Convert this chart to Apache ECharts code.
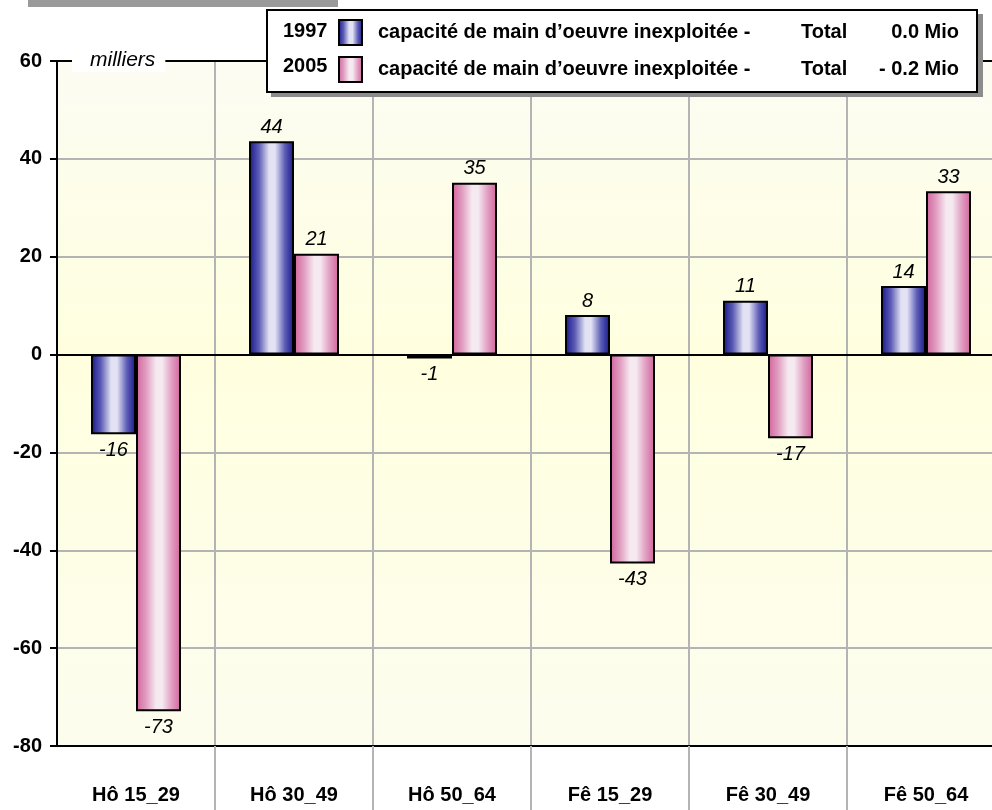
<!DOCTYPE html>
<html lang="fr">
<head>
  <meta charset="UTF-8">
  <title>capacité de main d'oeuvre inexploitée</title>
  <script src="https://cdn.jsdelivr.net/npm/echarts@6/dist/echarts.min.js"></script>
  <style>
    html, body { margin: 0; padding: 0; background: #fff; }
    #chart { width: 992px; height: 810px; }
  </style>
</head>
<body>
  <div id="chart"></div>
  <script>
    // catégories et valeurs (milliers)
    var categories = ['Hô 15_29', 'Hô 30_49', 'Hô 50_64', 'Fê 15_29', 'Fê 30_49', 'Fê 50_64'];
    var years = ['1997', '2005'];
    var v1997 = [-16.3, 43.6, -0.8, 8.1, 11.0, 14.0];
    var v2005 = [-72.9, 20.6, 35.1, -42.7, -17.1, 33.4];
    var legendText = 'capacité de main d\u2019oeuvre inexploitée -';
    var totals = ['0.0 Mio', '- 0.2 Mio'];
    var yTicks = { min: -80, max: 60, step: 20 };

    var font = 'Arial, "Liberation Sans", sans-serif';
    var myChart = echarts.init(document.getElementById('chart'));

    // dégradé horizontal : bords foncés, reflet clair au milieu
    function barGradient(dark, medium, light) {
      return new echarts.graphic.LinearGradient(0, 0, 1, 0, [
        { offset: 0, color: dark },
        { offset: 0.22, color: medium },
        { offset: 0.45, color: light },
        { offset: 0.58, color: light },
        { offset: 0.8, color: medium },
        { offset: 1, color: dark }
      ]);
    }

    // étiquette dessus ou dessous selon le signe
    function toData(arr) {
      return arr.map(function (v) {
        return { value: v, label: { position: v < 0 ? 'bottom' : 'top', distance: v < 0 ? 6 : 4 } };
      });
    }

    var labelStyle = {
      show: true,
      fontFamily: font,
      fontSize: 20,
      fontStyle: 'italic',
      color: '#000',
      formatter: function (p) { return Math.round(p.value); }
    };

    var bold20 = { fontFamily: font, fontSize: 20, fontWeight: 'bold', color: '#000', lineHeight: 25 };

    var option = {
      backgroundColor: '#fff',
      animation: false,
      textStyle: { fontFamily: font },
      grid: {
        show: true,
        left: 57, top: 61, bottom: 64, width: 948,
        containLabel: false,
        outerBoundsMode: 'none',
        borderWidth: 0,
        backgroundColor: new echarts.graphic.LinearGradient(0, 0, 0, 1, [
          { offset: 0, color: '#fcfcf3' },
          { offset: 0.43, color: '#ffffdf' },
          { offset: 1, color: '#fdfdef' }
        ])
      },
      legend: {
        orient: 'vertical',
        left: 338, top: 19,
        padding: 0,
        icon: 'rect',
        itemWidth: 23, itemHeight: 25, itemGap: 10,
        z: 110,
        data: years,
        formatter: function (name) {
          var i = years.indexOf(name);
          return '{a|' + legendText + '}{b|Total}{c|' + totals[i] + '}';
        },
        textStyle: {
          fontFamily: font, fontSize: 20, fontWeight: 'bold', color: '#000',
          rich: {
            a: Object.assign({ width: 423, padding: [0, 0, 0, 11] }, bold20),
            b: Object.assign({ width: 50 }, bold20),
            c: Object.assign({ width: 108, align: 'right' }, bold20)
          }
        }
      },
      graphic: [
        { type: 'rect', left: 28, top: 0, shape: { width: 310, height: 7 }, style: { fill: '#9a9a9a' }, z: 100 },
        // cadre de la légende avec ombre
        { type: 'rect', left: 271, top: 14, shape: { width: 712, height: 83 }, style: { fill: '#8c8c8c' }, z: 100 },
        { type: 'rect', left: 266, top: 9, shape: { width: 710, height: 82 }, style: { fill: '#fff', stroke: '#000', lineWidth: 2 }, z: 101 },
        { type: 'text', left: 283, top: 21, z: 102, style: { text: years[0], font: 'bold 20px ' + font, fill: '#000' } },
        { type: 'text', left: 283, top: 56, z: 102, style: { text: years[1], font: 'bold 20px ' + font, fill: '#000' } },
        {
          type: 'text', left: 72, top: 49, z: 100,
          style: {
            text: 'milliers', font: 'italic 21px ' + font, fill: '#000',
            backgroundColor: '#fff', padding: [1, 10, 1, 18]
          }
        }
      ],
      xAxis: {
        type: 'category',
        data: categories,
        axisLine: { show: true, onZero: false, lineStyle: { color: '#000', width: 2 } },
        axisTick: {
          show: true, length: 64,
          interval: function (index) { return index !== 0; },
          lineStyle: { color: '#b4b4b4', width: 2 }
        },
        axisLabel: { margin: 39, fontFamily: font, fontSize: 20, fontWeight: 'bold', color: '#000' },
        splitLine: { show: true, interval: 0, lineStyle: { color: '#b4b4b4', width: 2 } }
      },
      yAxis: {
        type: 'value',
        min: yTicks.min, max: yTicks.max, interval: yTicks.step,
        axisLine: { show: true, lineStyle: { color: '#000', width: 2 } },
        axisTick: { show: true, length: 7, lineStyle: { color: '#000', width: 2 } },
        axisLabel: { margin: 15, fontFamily: font, fontSize: 20, fontWeight: 'bold', color: '#000' },
        splitLine: { show: true, lineStyle: { color: '#b4b4b4', width: 2 } }
      },
      series: [
        {
          name: years[0],
          type: 'bar',
          barWidth: 45,
          barGap: '0%',
          data: toData(v1997),
          itemStyle: { color: barGradient('#16168a', '#5c5cb6', '#e2e2f4'), borderColor: '#000', borderWidth: 2 },
          label: labelStyle,
          markLine: {
            silent: true,
            symbol: 'none',
            label: { show: false },
            lineStyle: { color: '#000', width: 2, type: 'solid' },
            data: [{ yAxis: 0 }, { yAxis: yTicks.max }]
          }
        },
        {
          name: years[1],
          type: 'bar',
          barWidth: 45,
          barGap: '0%',
          data: toData(v2005),
          itemStyle: { color: barGradient('#d2629c', '#e09cc0', '#f6eaf1'), borderColor: '#000', borderWidth: 2 },
          label: labelStyle
        }
      ]
    };

    myChart.setOption(option);
  </script>
</body>
</html>
